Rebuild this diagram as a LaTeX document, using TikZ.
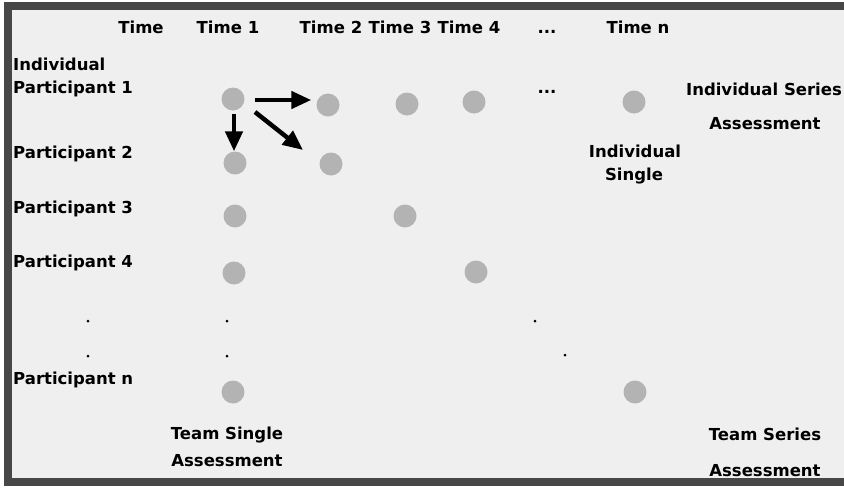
\documentclass[tikz,border=0pt]{standalone}
\usepackage{fontspec}
\setmainfont{DejaVu Sans}
\usetikzlibrary{arrows.meta,calc}
\definecolor{framegray}{HTML}{474747}
\definecolor{panelgray}{HTML}{EFEFEF}
\definecolor{dotgray}{HTML}{B3B3B3}
\tikzset{
  lbl/.style={font=\bfseries\fontsize{16.5}{19}\selectfont, inner sep=0pt, text=black},
  rowlbl/.style={lbl, anchor=base west},
  toplbl/.style={lbl, anchor=base},
  obs/.style={circle, fill=dotgray, draw=none, minimum size=23pt, inner sep=0pt},
  pt/.style={circle, fill=black, minimum size=3pt, inner sep=0pt},
  arr/.style={line width=4.5pt, -{Triangle[length=20pt,width=17pt]}}
}
\begin{document}
\begin{tikzpicture}[x=1pt,y=-1pt]
  \useasboundingbox (0,0) rectangle (844,488);
  % frame and panel
  \fill[white] (0,0) rectangle (844,488);
  \fill[framegray] (4,2) rectangle (844,486);
  \fill[panelgray] (12,10) rectangle (844,478);

  % column headers
  \node[toplbl] (hT)  at (141,33) {Time};
  \node[toplbl] (h1)  at (228,33) {Time 1};
  \node[toplbl] (h2)  at (331,33) {Time 2};
  \node[toplbl] (h3)  at (400,33) {Time 3};
  \node[toplbl] (h4)  at (469,33) {Time 4};
  \node[toplbl] (hd)  at (547,33) {...};
  \node[toplbl] (hn)  at (638,33) {Time n};

  % row labels
  \node[rowlbl] (rI) at (13,70)  {Individual};
  \node[rowlbl] (r1) at (13,93)  {Participant 1};
  \node[rowlbl] (r2) at (13,158) {Participant 2};
  \node[rowlbl] (r3) at (13,213) {Participant 3};
  \node[rowlbl] (r4) at (13,267) {Participant 4};
  \node[rowlbl] (rn) at (13,384) {Participant n};
  \node[pt] (rd1) at (88,321) {};
  \node[pt] (rd2) at (88,356) {};

  % observations
  \node[obs] (p11) at (233,99)  {};
  \node[obs] (p12) at (328,105) {};
  \node[obs] (p13) at (407,104) {};
  \node[obs] (p14) at (474,102) {};
  \node[toplbl] (p1d) at (547,93) {...};
  \node[obs] (p1n) at (634,102) {};
  \node[obs] (p21) at (235,163) {};
  \node[obs] (p22) at (331,164) {};
  \node[obs] (p31) at (235,216) {};
  \node[obs] (p33) at (405,216) {};
  \node[obs] (p41) at (234,273) {};
  \node[obs] (p44) at (476,272) {};
  \node[obs] (pn1) at (233,392) {};
  \node[obs] (pnn) at (635,392) {};
  \node[pt] (cd1) at (227,321) {};
  \node[pt] (cd2) at (227,356) {};
  \node[pt] (dd1) at (535,321) {};
  \node[pt] (dd2) at (565,355) {};

  % arrows
  \draw[arr] ($(p11.east)+(10,1)$) -- ($(p12.west)+(-5,-5)$);
  \draw[arr] ($(p11.south)+(1,3)$) -- ($(p21.north)+(-1,0)$);
  \draw[arr] ($(p11)+(22,13)$) -- ($(p22)+(-28,-14)$);

  % assessment labels
  \node[toplbl] (isA) at (764,95)  {Individual Series};
  \node[toplbl] (isB) at (765,129) {Assessment};
  \node[toplbl] (inA) at (635,157) {Individual};
  \node[toplbl] (inB) at (634,180) {Single};
  \node[toplbl] (tsA) at (227,439) {Team Single};
  \node[toplbl] (tsB) at (227,466) {Assessment};
  \node[toplbl] (trA) at (765,440) {Team Series};
  \node[toplbl] (trB) at (765,476) {Assessment};
\end{tikzpicture}
\end{document}
